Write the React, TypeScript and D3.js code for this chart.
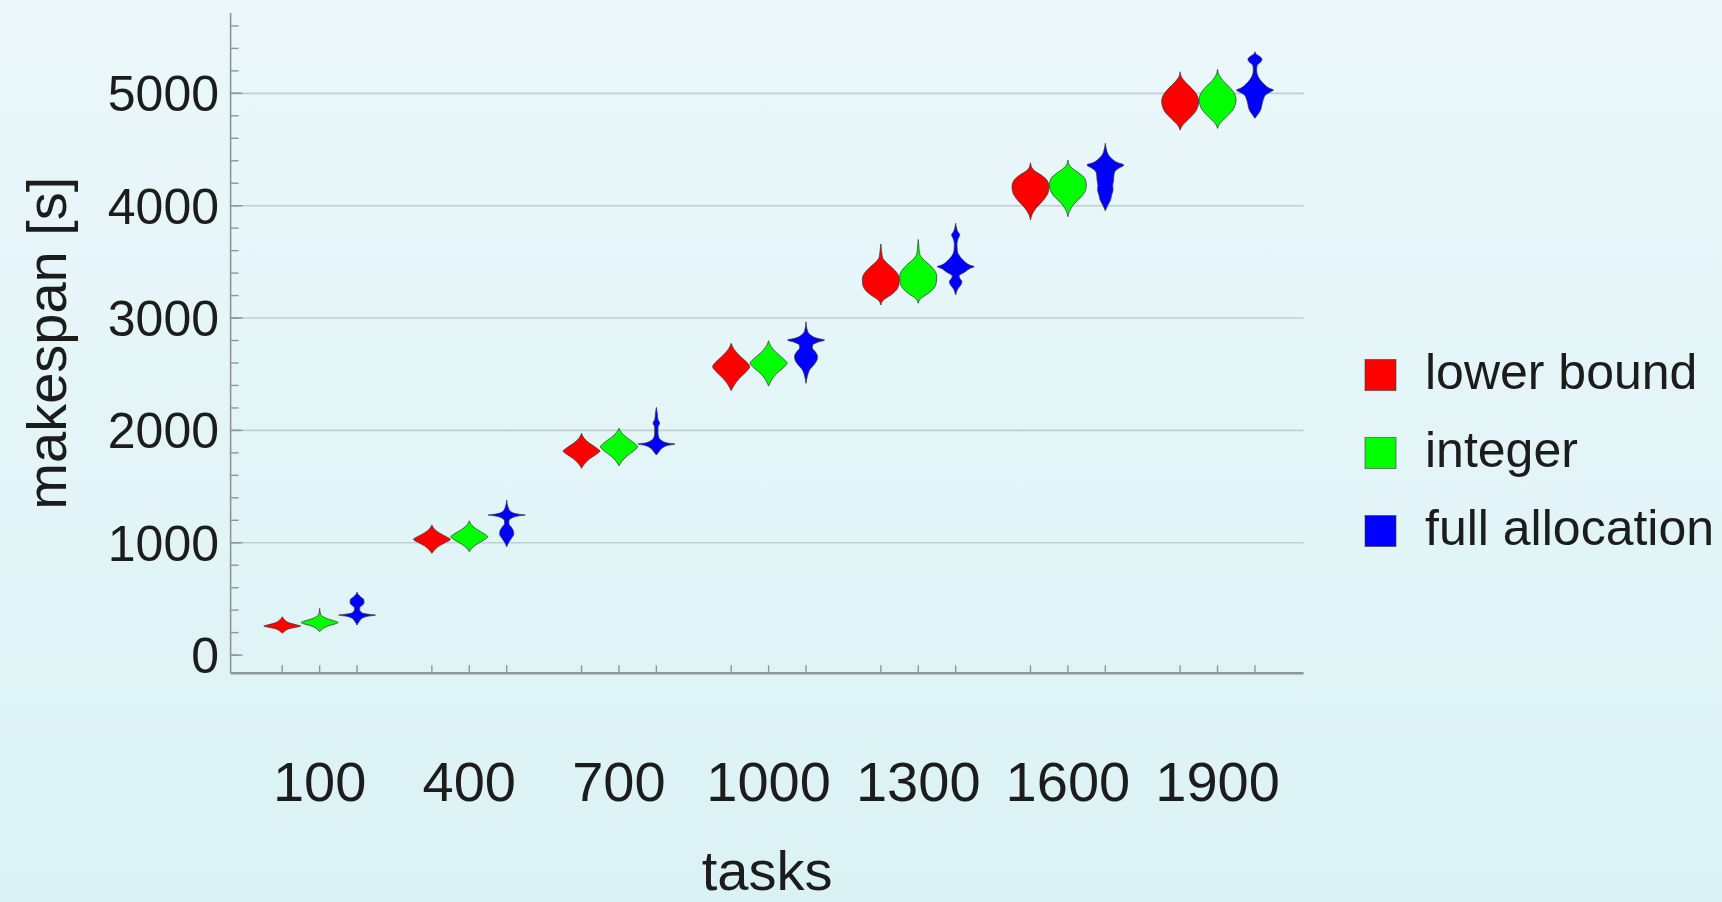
import React from "react";
import * as d3 from "d3";

// ---- data ----
const tasks = [100, 400, 700, 1000, 1300, 1600, 1900];
const seriesNames = ["lower bound", "integer", "full allocation"];
const seriesColors = ["#ff0000", "#00ff00", "#0000ff"];
const yTicks = [0, 1000, 2000, 3000, 4000, 5000];
const yMinorTicks = d3.range(0, 5700, 200);

// Each violin: [makespan value, relative density width (max 1)] from bottom to top
const lowerBound: [number, number][][] = [
  [[194, 0], [212, 0.12], [235, 0.38], [250, 0.8], [259, 1], [268, 0.8], [287, 0.38], [315, 0.12], [341, 0]],
  [[906, 0], [932, 0.12], [970, 0.38], [1008, 0.8], [1030, 1], [1052, 0.8], [1090, 0.38], [1125, 0.12], [1158, 0]],
  [[1662, 0], [1698, 0.14], [1745, 0.42], [1790, 0.82], [1816, 1], [1842, 0.82], [1887, 0.42], [1930, 0.14], [1974, 0]],
  [[2353, 0], [2398, 0.14], [2460, 0.42], [2525, 0.82], [2567, 1], [2610, 0.82], [2672, 0.42], [2725, 0.14], [2775, 0]],
  [[3116, 0], [3160, 0.14], [3200, 0.5], [3250, 0.84], [3300, 0.98], [3350, 1], [3400, 0.88], [3450, 0.6], [3500, 0.26], [3540, 0.09], [3600, 0.04], [3659, 0]],
  [[3872, 0], [3920, 0.08], [3990, 0.36], [4060, 0.75], [4120, 0.96], [4170, 1], [4220, 0.92], [4270, 0.6], [4310, 0.22], [4340, 0.07], [4382, 0]],
  [[4673, 0], [4710, 0.1], [4770, 0.45], [4840, 0.84], [4900, 0.98], [4930, 1], [4980, 0.92], [5040, 0.65], [5100, 0.28], [5140, 0.09], [5192, 0]],
];

const integerSol: [number, number][][] = [
  [[208, 0], [233, 0.15], [260, 0.46], [280, 0.88], [290, 1], [300, 0.88], [320, 0.48], [345, 0.16], [360, 0.06], [416, 0]],
  [[920, 0], [952, 0.14], [988, 0.42], [1025, 0.8], [1053, 1], [1080, 0.8], [1118, 0.42], [1155, 0.14], [1196, 0]],
  [[1685, 0], [1722, 0.14], [1770, 0.42], [1820, 0.82], [1854, 1], [1888, 0.82], [1937, 0.42], [1980, 0.14], [2018, 0]],
  [[2395, 0], [2442, 0.14], [2505, 0.42], [2560, 0.82], [2597, 1], [2635, 0.82], [2692, 0.42], [2745, 0.14], [2798, 0]],
  [[3131, 0], [3175, 0.14], [3215, 0.5], [3265, 0.84], [3320, 0.98], [3375, 1], [3425, 0.88], [3475, 0.6], [3525, 0.26], [3565, 0.09], [3620, 0.04], [3700, 0]],
  [[3902, 0], [3950, 0.08], [4020, 0.36], [4085, 0.75], [4140, 0.96], [4185, 1], [4240, 0.92], [4290, 0.6], [4335, 0.22], [4365, 0.07], [4406, 0]],
  [[4688, 0], [4725, 0.1], [4785, 0.45], [4855, 0.84], [4915, 0.98], [4945, 1], [4995, 0.92], [5055, 0.65], [5115, 0.28], [5160, 0.09], [5214, 0]],
];

const fullAllocation: [number, number][][] = [
  [[267, 0], [300, 0.12], [330, 0.3], [348, 0.65], [356, 1], [364, 0.6], [380, 0.24], [405, 0.14], [425, 0.15], [445, 0.3], [470, 0.38], [495, 0.36], [520, 0.18], [540, 0.06], [561, 0]],
  [[964, 0], [1000, 0.1], [1040, 0.26], [1075, 0.38], [1100, 0.37], [1140, 0.24], [1170, 0.12], [1195, 0.12], [1225, 0.34], [1240, 0.68], [1247, 1], [1254, 0.65], [1275, 0.24], [1310, 0.09], [1380, 0]],
  [[1781, 0], [1810, 0.14], [1845, 0.34], [1868, 0.65], [1878, 1], [1888, 0.6], [1910, 0.28], [1940, 0.13], [1975, 0.09], [2030, 0.09], [2065, 0.18], [2100, 0.08], [2150, 0.05], [2205, 0]],
  [[2419, 0], [2480, 0.07], [2540, 0.2], [2590, 0.46], [2630, 0.6], [2660, 0.62], [2700, 0.5], [2735, 0.34], [2760, 0.36], [2785, 0.64], [2804, 1], [2820, 0.6], [2850, 0.24], [2880, 0.09], [2967, 0]],
  [[3205, 0], [3260, 0.12], [3300, 0.3], [3325, 0.34], [3350, 0.24], [3375, 0.18], [3410, 0.5], [3445, 0.82], [3457, 1], [3470, 0.78], [3510, 0.44], [3550, 0.22], [3600, 0.09], [3660, 0.07], [3710, 0.14], [3740, 0.22], [3770, 0.11], [3800, 0.05], [3843, 0]],
  [[3955, 0], [4000, 0.12], [4050, 0.28], [4100, 0.35], [4140, 0.42], [4180, 0.4], [4220, 0.44], [4260, 0.46], [4300, 0.5], [4335, 0.74], [4362, 1], [4385, 0.64], [4420, 0.34], [4460, 0.14], [4500, 0.06], [4555, 0]],
  [[4778, 0], [4810, 0.14], [4850, 0.3], [4900, 0.38], [4950, 0.46], [4990, 0.6], [5015, 0.86], [5029, 1], [5045, 0.78], [5080, 0.5], [5120, 0.28], [5160, 0.14], [5210, 0.09], [5250, 0.12], [5280, 0.32], [5303, 0.38], [5325, 0.28], [5345, 0.09], [5370, 0]],
];

const allSeries = [lowerBound, integerSol, fullAllocation];

// ---- layout ----
const W = 1722;
const H = 902;
const FONT = "'Liberation Sans', Arial, Helvetica, sans-serif";

export default function App() {
  const x = d3.scaleLinear().domain([-1.38, 27.3]).range([230.6, 1303.6]);
  const y = d3.scaleLinear().domain([-162, 5715]).range([673.3, 13]);
  const slot = x(1) - x(0);
  const hw = slot / 2 - 0.2;

  const violins: React.ReactNode[] = [];
  const xTickPos: number[] = [];
  allSeries.forEach((series, j) => {
    series.forEach((profile, i) => {
      const p = 4 * i + j;
      const cx = x(p);
      xTickPos.push(cx);
      const area = d3
        .area<[number, number]>()
        .y((d) => y(d[0]))
        .x0((d) => cx - d[1] * hw)
        .x1((d) => cx + d[1] * hw)
        .curve(d3.curveMonotoneY);
      violins.push(
        <path
          key={`v-${j}-${i}`}
          d={area(profile) || ""}
          fill={seriesColors[j]}
          stroke="#3a3a3a"
          strokeOpacity={0.75}
          strokeWidth={1}
          strokeLinejoin="round"
        />
      );
    });
  });

  const x0 = x.range()[0];
  const x1 = x.range()[1];
  const yBottom = y.range()[0];
  const yTop = y.range()[1];

  return (
    <div style={{ position: "absolute", left: 0, top: 0, width: W, height: H }}>
      <svg width={W} height={H} viewBox={`0 0 ${W} ${H}`} style={{ display: "block" }}>
        <defs>
          <linearGradient id="bg" x1="0" y1="0" x2="0" y2="1">
            <stop offset="0" stopColor="#ebf7fb" />
            <stop offset="1" stopColor="#dbf2f4" />
          </linearGradient>
        </defs>
        <rect x={0} y={0} width={W} height={H} fill="url(#bg)" />

        {/* gridlines */}
        {yTicks
          .filter((t) => t > 0)
          .map((t) => (
            <line key={`g${t}`} x1={x0} x2={x1} y1={y(t)} y2={y(t)} stroke="#bfcfd2" strokeWidth={1.6} />
          ))}

        {/* y minor ticks */}
        {yMinorTicks.map((t) => (
          <line key={`ym${t}`} x1={x0} x2={x0 + 8} y1={y(t)} y2={y(t)} stroke="#8d979a" strokeWidth={1.4} />
        ))}
        {yTicks.map((t) => (
          <line key={`yM${t}`} x1={x0} x2={x0 + 12} y1={y(t)} y2={y(t)} stroke="#8d979a" strokeWidth={1.4} />
        ))}

        {/* x ticks */}
        {xTickPos.map((px, k) => (
          <line key={`xt${k}`} x1={px} x2={px} y1={yBottom} y2={yBottom - 8} stroke="#8d979a" strokeWidth={1.4} />
        ))}

        {/* axes */}
        <line x1={x0} x2={x0} y1={yTop} y2={yBottom} stroke="#8d979a" strokeWidth={1.6} />
        <line x1={x0} x2={x1} y1={yBottom} y2={yBottom} stroke="#8d979a" strokeWidth={2.6} />

        {/* violins */}
        {violins}

        {/* y tick labels */}
        {yTicks.map((t) => (
          <text
            key={`yl${t}`}
            x={219}
            y={y(t) + 18}
            textAnchor="end"
            fontFamily={FONT}
            fontSize={50}
            fill="#1c1c1c"
          >
            {t}
          </text>
        ))}

        {/* x tick labels */}
        {tasks.map((t, i) => (
          <text
            key={`xl${t}`}
            x={x(4 * i + 1)}
            y={801}
            textAnchor="middle"
            fontFamily={FONT}
            fontSize={56}
            fill="#1c1c1c"
          >
            {t}
          </text>
        ))}

        {/* axis titles */}
        <text x={(x0 + x1) / 2} y={890} textAnchor="middle" fontFamily={FONT} fontSize={56} fill="#1c1c1c">
          tasks
        </text>
        <text
          transform={`translate(66, ${(yTop + yBottom) / 2}) rotate(-90)`}
          textAnchor="middle"
          fontFamily={FONT}
          fontSize={56}
          fill="#1c1c1c"
        >
          makespan [s]
        </text>

        {/* legend */}
        {seriesNames.map((name, j) => {
          const cy = 375 + j * 78;
          return (
            <g key={`lg${j}`}>
              <rect
                x={1365}
                y={cy - 15.5}
                width={31}
                height={31}
                fill={seriesColors[j]}
                stroke="#3a3a3a"
                strokeOpacity={0.6}
                strokeWidth={1}
              />
              <text x={1425} y={cy + 13.5} fontFamily={FONT} fontSize={50} fill="#1c1c1c">
                {name}
              </text>
            </g>
          );
        })}
      </svg>
    </div>
  );
}
